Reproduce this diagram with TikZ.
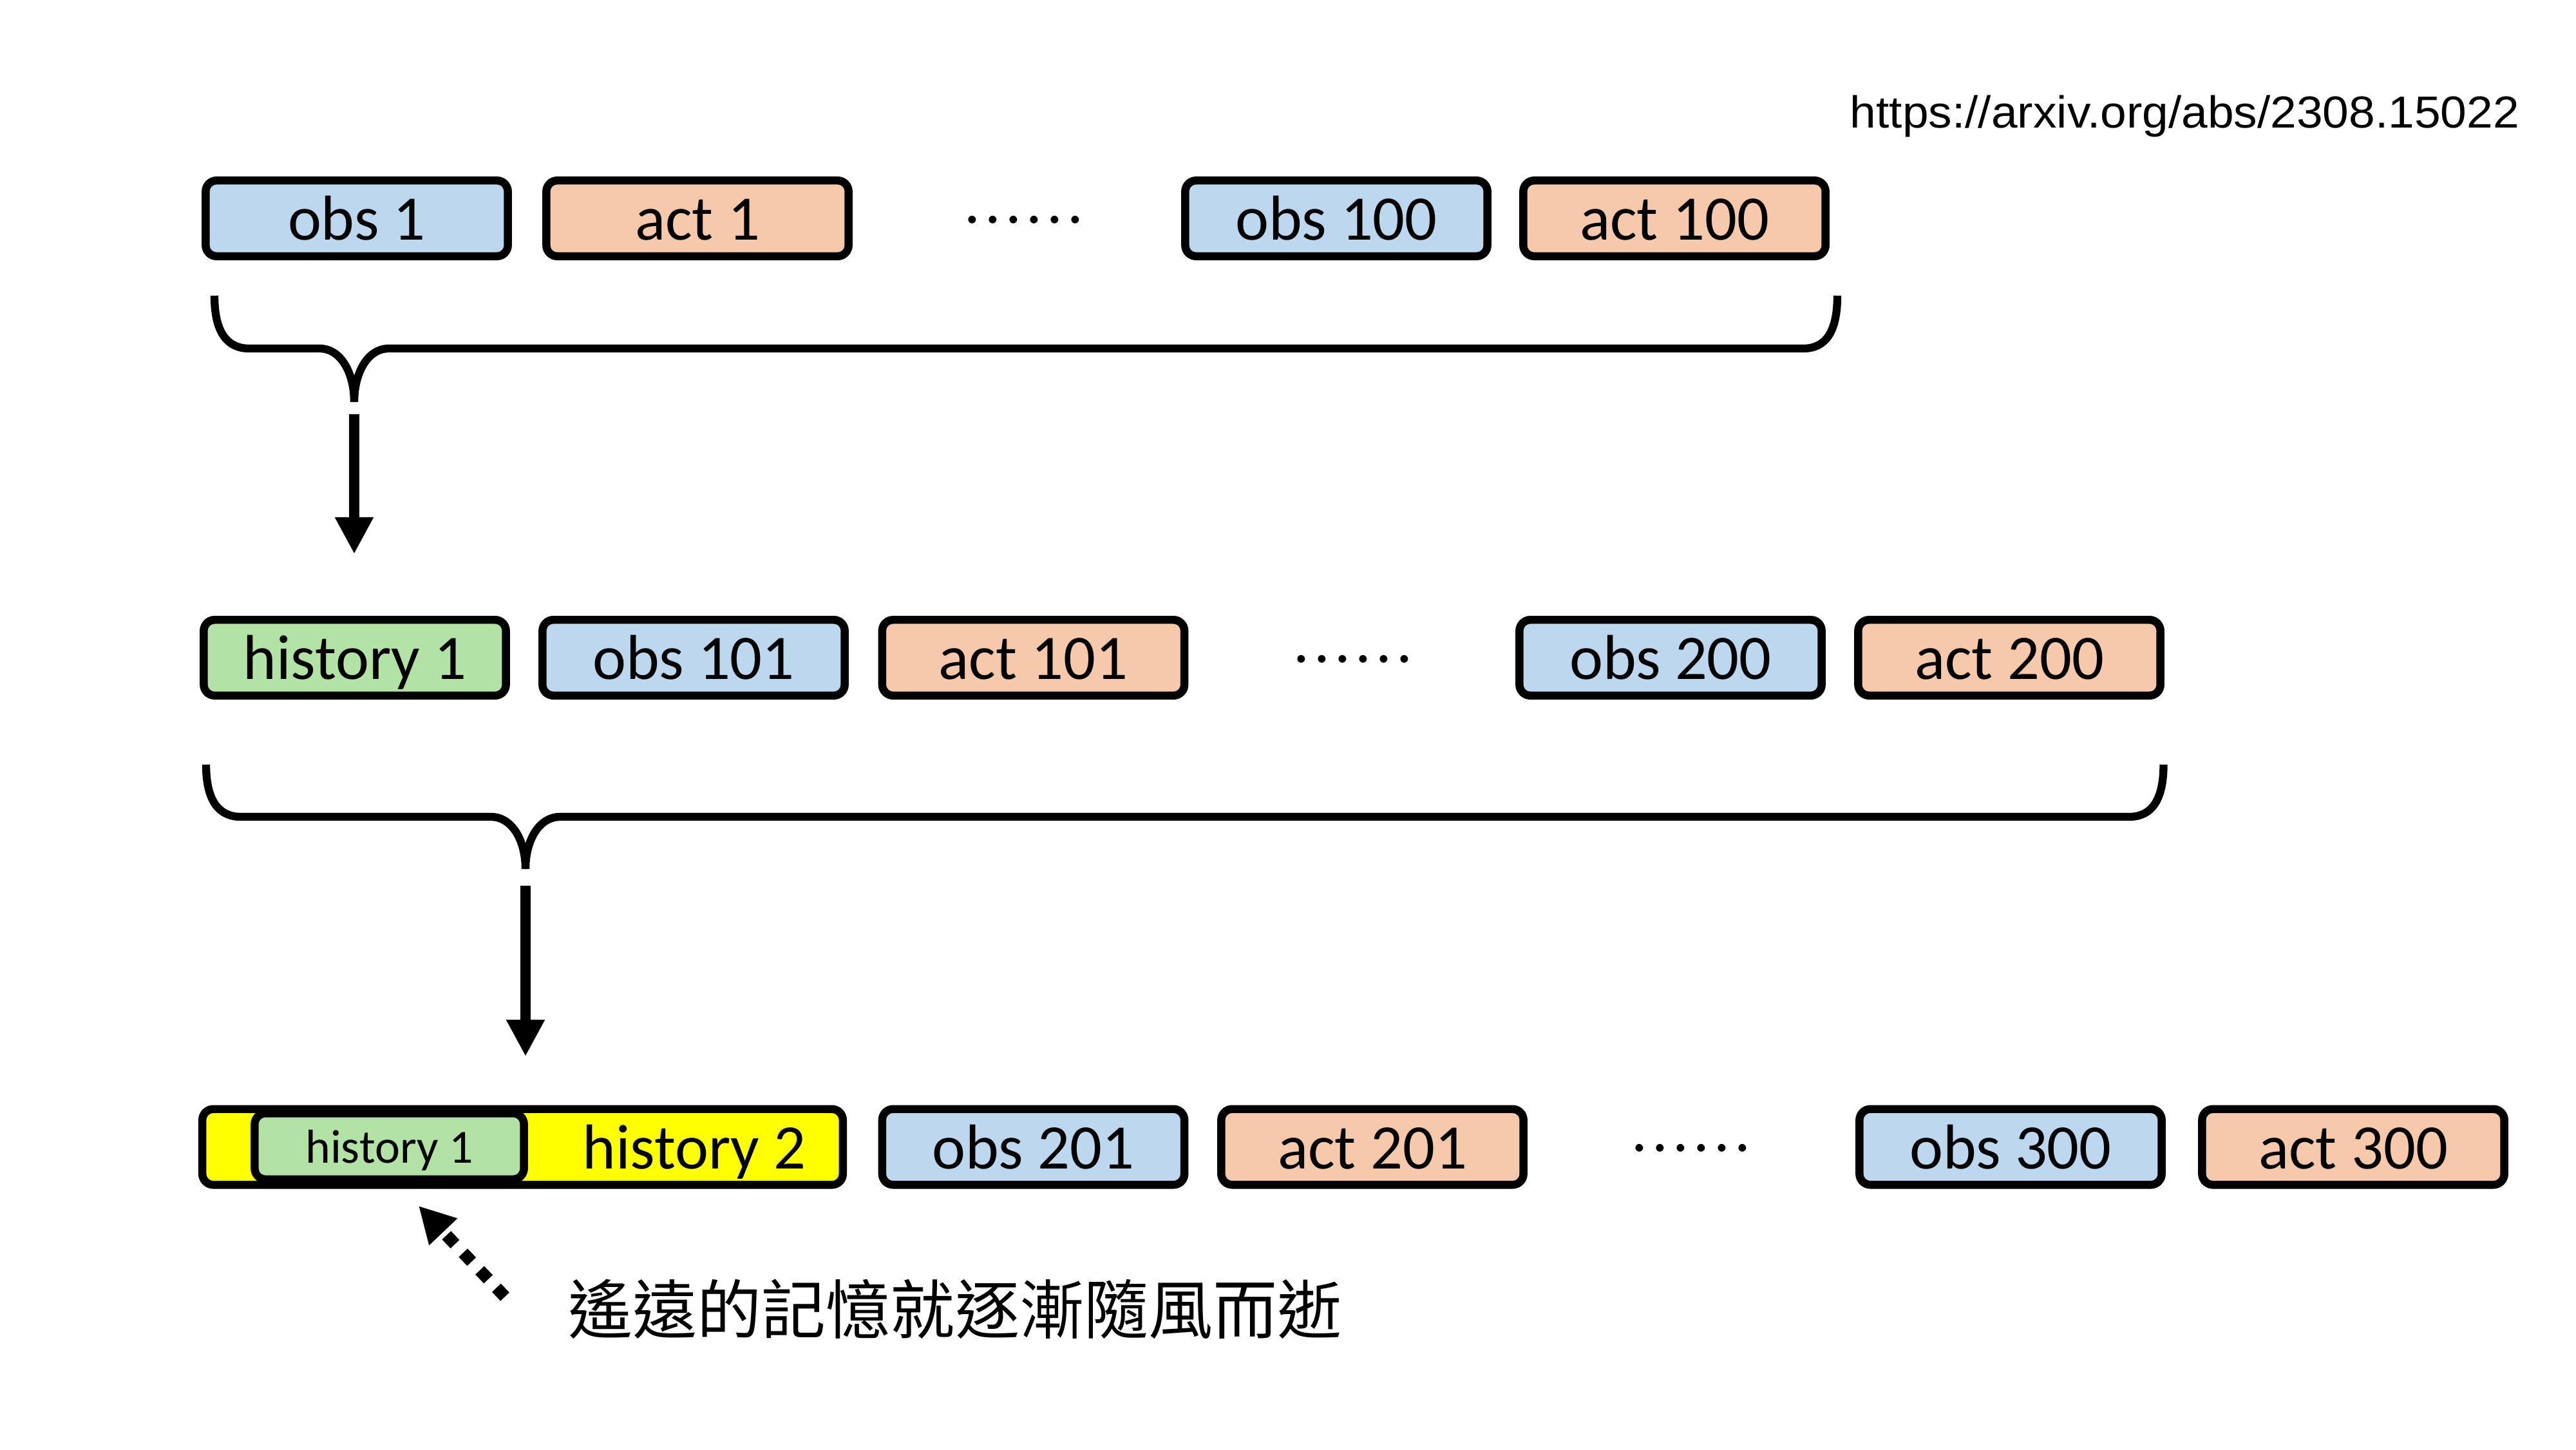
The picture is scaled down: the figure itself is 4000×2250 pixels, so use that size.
\documentclass[tikz,border=0pt]{standalone}
\usepackage{fontspec}
\setmainfont{Carlito}
\newfontfamily\urlfont[FakeStretch=1.05]{Liberation Sans}
\newfontfamily\cjkfont{Noto Sans CJK TC}
\usetikzlibrary{arrows.meta}
\definecolor{obsblue}{HTML}{BDD7EE}
\definecolor{actpeach}{HTML}{F6C9AB}
\definecolor{histgreen}{HTML}{B3E2A5}
\definecolor{histyellow}{HTML}{FFFF00}
\tikzset{
  box/.style={draw=black, line width=3.55pt, rounded corners=0.17cm,
    minimum width=4.69cm, minimum height=1.175cm, inner sep=0pt,
    font=\fontsize{28}{33}\selectfont, text height=22.4pt, text depth=3.1pt},
  obsbox/.style={box, fill=obsblue},
  actbox/.style={box, fill=actpeach},
  histbox/.style={box, fill=histgreen},
  dotsnode/.style={inner sep=0pt, anchor=base, font=\fontsize{28}{33}\selectfont},
  bracepath/.style={line width=3.5pt, line join=round},
  downarr/.style={line width=4.8pt, -{Triangle[length=0.57cm, width=0.56cm]}},
  dotarr/.style={line width=5.4pt, dash pattern=on 0.19cm off 0.185cm,
    -{Triangle[length=0.556cm, width=0.566cm]}}
}
\newcommand{\sixdots}{.\kern2pt.\kern2pt.\kern2pt.\kern2pt.\kern2pt.}
\begin{document}
\begin{tikzpicture}[x=0.01cm, y=-0.01cm]
\useasboundingbox (0,0) rectangle (4000,2250);
\fill[white] (0,0) rectangle (4000,2250);

% URL
\node[inner sep=0pt, anchor=base west, font=\urlfont\fontsize{19.8}{24}\selectfont] (url) at (2872,198) {https://arxiv.org/abs/2308.15022};

% Row 1
\node[obsbox] (obs1) at (554,339) {obs 1};
\node[actbox] (act1) at (1083,339) {act 1};
\node[dotsnode] (dots1) at (1590,346) {\sixdots};
\node[obsbox] (obs100) at (2075,339) {obs 100};
\node[actbox] (act100) at (2600,339) {act 100};

% Brace 1
\draw[bracepath] (333,459) .. controls (333,515) and (352,541) .. (387,541) -- (496,541)
  .. controls (530,541) and (550,580) .. (550,624);
\draw[bracepath] (550,624) .. controls (550,580) and (570,541) .. (604,541) -- (2800,541)
  .. controls (2835,541) and (2853,515) .. (2853,459);
\coordinate (a1s) at (550,643);
\coordinate (a1e) at (550,860);
\draw[downarr] (a1s) -- (a1e);

% Row 2
\node[histbox] (hist1) at (551,1021) {history 1};
\node[obsbox] (obs101) at (1077,1021) {obs 101};
\node[actbox] (act101) at (1604.5,1021) {act 101};
\node[dotsnode] (dots2) at (2101,1028) {\sixdots};
\node[obsbox] (obs200) at (2594,1021) {obs 200};
\node[actbox] (act200) at (3120,1021) {act 200};

% Brace 2
\draw[bracepath] (320,1187) .. controls (320,1242) and (339,1268) .. (374,1268) -- (762,1268)
  .. controls (796,1268) and (816,1306) .. (816,1349);
\draw[bracepath] (816,1349) .. controls (816,1306) and (836,1268) .. (870,1268) -- (3306,1268)
  .. controls (3341,1268) and (3359.5,1242) .. (3359.5,1187);
\coordinate (a2s) at (816,1375);
\coordinate (a2e) at (816,1640);
\draw[downarr] (a2s) -- (a2e);

% Row 3
\node[box, fill=histyellow, minimum width=9.94cm] (hist2box) at (811.5,1780.5) {};
\node[histbox, minimum width=4.18cm, minimum height=1.025cm,
  font=\fontsize{21}{25}\selectfont, text height=16.8pt, text depth=2.3pt] (hist1in) at (604.5,1779.5) {history 1};
\node[inner sep=0pt, font=\fontsize{28}{33}\selectfont, text height=22.4pt, text depth=3.1pt] (hist2lbl) at (1078,1780.5) {history 2};
\node[obsbox] (obs201) at (1604.5,1780.5) {obs 201};
\node[actbox] (act201) at (2131,1780.5) {act 201};
\node[dotsnode] (dots3) at (2626,1787.5) {\sixdots};
\node[obsbox] (obs300) at (3122,1780.5) {obs 300};
\node[actbox] (act300) at (3654,1780.5) {act 300};

% Dotted arrow and caption
\coordinate (dtail) at (784,2013);
\coordinate (dtip) at (650,1872);
\draw[dotarr] (dtail) -- (dtip);
\node[inner sep=0pt, font=\cjkfont\fontsize{28.45}{33}\selectfont] (caption) at (1483,2032) {遙遠的記憶就逐漸隨風而逝};
\end{tikzpicture}
\end{document}
